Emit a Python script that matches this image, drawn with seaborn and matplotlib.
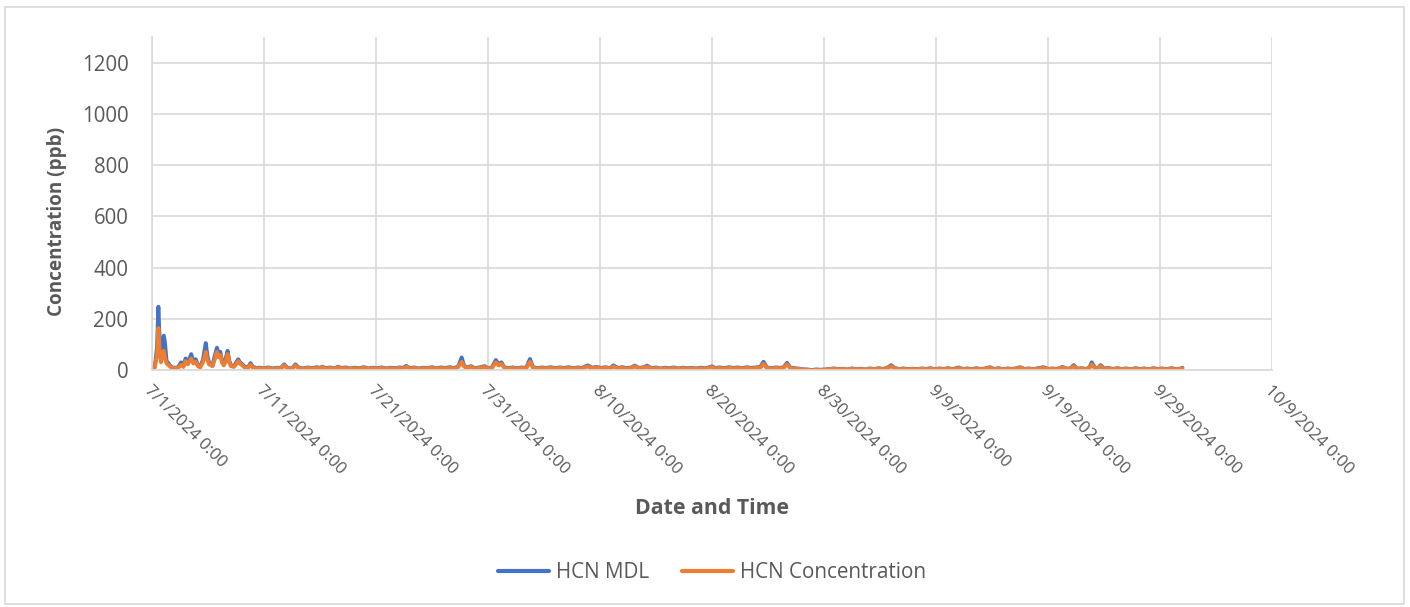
import datetime as dt

import matplotlib
matplotlib.use("Agg")
import matplotlib.pyplot as plt
import matplotlib.dates as mdates
from matplotlib.patches import Rectangle
from matplotlib.ticker import FuncFormatter
import pandas as pd
import seaborn as sns

# ---- data -------------------------------------------------------------
start = dt.datetime(2024, 7, 1)

# sample times, in days after 7/1/2024 0:00
day_offsets = [
    0.0, 0.25, 0.45, 0.57, 0.68, 0.80, 0.92, 1.05, 1.15, 1.30, 1.45, 1.65, 1.85,
    2.1, 2.35, 2.6, 2.8, 3.0, 3.2, 3.5, 3.7, 3.9, 4.1, 4.3, 4.55, 4.8, 4.95,
    5.1, 5.4, 5.6, 5.8, 5.95, 6.1, 6.25, 6.4, 6.55, 6.75, 6.9, 7.05, 7.3, 7.5,
    7.7, 7.85, 8.0, 8.3, 8.6, 8.8, 9.0, 9.3, 9.6, 9.9,
    10.0, 10.4, 10.8, 11.2, 11.5, 11.8, 12.1, 12.5, 12.8, 13.1, 13.5, 13.9,
    14.3, 14.7, 15.0, 15.2, 15.5, 15.9, 16.3, 16.6, 16.9, 17.3, 17.7, 18.1,
    18.5, 18.9, 19.3, 19.7, 20.1, 20.5, 20.9, 21.3, 21.7, 22.1, 22.4, 22.7,
    23.0, 23.4, 23.8, 24.2, 24.6, 25.0, 25.4, 25.8, 26.2, 26.6, 27.0, 27.35,
    27.65, 27.85, 28.1, 28.5, 28.8, 29.2, 29.7, 30.0, 30.35, 30.7, 30.95, 31.2,
    31.45, 31.8, 32.2, 32.6, 33.0, 33.4, 33.75, 34.0, 34.4, 34.8, 35.2, 35.6,
    36.0, 36.4, 36.8, 37.2, 37.6, 38.0, 38.4, 38.9, 39.3, 39.7, 40.1, 40.5,
    40.9, 41.2, 41.6, 42.0, 42.4, 42.8, 43.1, 43.5, 43.9, 44.2, 44.6, 45.0,
    45.4, 45.8, 46.2, 46.6, 47.0, 47.4, 47.8, 48.2, 48.6, 49.0, 49.4, 49.7,
    50.0, 50.3, 50.7, 51.1, 51.5, 51.9, 52.3, 52.7, 53.1, 53.5, 53.9, 54.3,
    54.6, 54.9, 55.3, 55.7, 56.1, 56.4, 56.7, 57.0, 57.4, 57.8, 58.1, 58.5,
    58.9, 59.3, 59.7, 60.1, 60.5, 60.9, 61.3, 61.7, 62.1, 62.5, 62.9, 63.3,
    63.7, 64.1, 64.5, 64.9, 65.3, 65.7, 66.0, 66.3, 66.7, 67.1, 67.5, 67.9,
    68.3, 68.7, 69.1, 69.5, 69.9, 70.3, 70.7, 71.1, 71.5, 72.0, 72.4, 72.8,
    73.2, 73.6, 74.0, 74.4, 74.8, 75.2, 75.6, 76.0, 76.4, 76.8, 77.2, 77.5,
    77.9, 78.3, 78.7, 79.1, 79.6, 80.0, 80.4, 80.8, 81.3, 81.7, 82.0, 82.3,
    82.6, 83.0, 83.4, 83.7, 83.9, 84.2, 84.45, 84.7, 85.0, 85.4, 85.8, 86.2,
    86.6, 87.0, 87.4, 87.8, 88.2, 88.6, 89.0, 89.4, 89.8, 90.2, 90.6, 91.0,
    91.4, 91.8, 92.0,
]

# HCN method detection limit (ppb)
hcn_mdl = [
    8, 12, 90, 247, 120, 40, 90, 134, 110, 35, 27, 15, 10,
    8, 12, 30, 16, 45, 28, 62, 30, 42, 18, 12, 40, 105, 55,
    28, 18, 55, 87, 62, 71, 35, 23, 40, 75, 36, 19, 15, 28,
    42, 30, 25, 12, 12, 27, 13, 8, 9, 7,
    7, 10, 6, 9, 7, 22, 8, 6, 22, 9, 6, 10,
    7, 11, 8, 13, 7, 10, 6, 13, 8, 10, 6, 9,
    7, 11, 6, 9, 7, 10, 6, 9, 7, 10, 8, 16,
    7, 10, 6, 9, 7, 11, 6, 10, 8, 11, 7, 15,
    49, 18, 10, 15, 7, 10, 15, 7, 10, 39, 22, 30,
    11, 7, 10, 7, 10, 8, 43, 12, 7, 10, 8, 11,
    7, 10, 8, 11, 7, 10, 8, 18, 9, 12, 8, 11,
    7, 18, 8, 11, 7, 10, 17, 8, 11, 17, 7, 10,
    6, 9, 7, 10, 6, 9, 7, 8, 6, 9, 7, 10,
    14, 8, 10, 7, 11, 8, 10, 7, 11, 8, 10, 12,
    32, 10, 7, 10, 8, 11, 28, 9, 7, 5, 3, 2,
    0, 2, 1, 2, 4, 6, 3, 5, 2, 6, 3, 5,
    2, 6, 4, 7, 4, 10, 19, 8, 4, 6, 3, 5,
    3, 6, 4, 7, 3, 6, 4, 7, 3, 10, 4, 6,
    3, 7, 4, 6, 11, 4, 7, 3, 6, 4, 7, 11,
    4, 6, 3, 7, 11, 4, 6, 4, 12, 5, 7, 19,
    5, 7, 4, 10, 30, 9, 6, 19, 6, 8, 4, 7,
    4, 6, 3, 7, 4, 6, 3, 7, 4, 6, 3, 7,
    4, 5, 9,
]

# measured HCN concentration (ppb)
hcn_conc = [
    6, 10, 60, 164, 80, 30, 50, 75, 50, 25, 20, 12, 8,
    6, 9, 20, 12, 35, 22, 45, 25, 32, 15, 10, 30, 71, 40,
    22, 15, 40, 71, 50, 58, 30, 18, 30, 62, 30, 15, 12, 22,
    35, 25, 20, 9, 10, 20, 10, 6, 7, 5,
    5, 8, 4, 7, 5, 18, 6, 4, 18, 7, 4, 8,
    5, 9, 6, 11, 5, 8, 4, 11, 6, 8, 4, 7,
    5, 9, 4, 7, 5, 8, 4, 7, 5, 8, 6, 13,
    5, 8, 4, 7, 5, 9, 4, 8, 6, 9, 5, 12,
    32, 14, 8, 12, 5, 8, 12, 5, 8, 30, 18, 24,
    9, 5, 8, 5, 8, 6, 32, 10, 5, 8, 6, 9,
    5, 8, 6, 9, 5, 8, 6, 14, 7, 10, 6, 9,
    5, 14, 6, 9, 5, 8, 14, 6, 9, 13, 5, 8,
    4, 7, 5, 8, 4, 7, 5, 6, 4, 7, 5, 8,
    11, 6, 8, 5, 9, 6, 8, 5, 9, 6, 8, 9,
    24, 8, 5, 8, 6, 9, 22, 7, 5, 4, 2, 1,
    -1, 1, 0, 1, 3, 5, 2, 4, 1, 5, 2, 4,
    1, 5, 3, 6, 3, 8, 15, 6, 3, 5, 2, 4,
    2, 5, 3, 6, 2, 5, 3, 6, 2, 8, 3, 5,
    2, 6, 3, 5, 9, 3, 6, 2, 5, 3, 6, 9,
    3, 5, 2, 6, 9, 3, 5, 3, 10, 4, 6, 15,
    4, 6, 3, 8, 22, 7, 5, 15, 5, 7, 3, 6,
    3, 5, 2, 6, 3, 5, 2, 6, 3, 5, 2, 6,
    3, 4, 7,
]

series_names = ["HCN MDL", "HCN Concentration"]
series_colors = ["#4472C4", "#ED7D31"]
y_ticks = [0, 200, 400, 600, 800, 1000, 1200]
x_tick_days = [0, 10, 20, 30, 40, 50, 60, 70, 80, 90, 100]

# ---- long-form table ---------------------------------------------------
times = [start + dt.timedelta(days=d) for d in day_offsets]
n = len(times)
df = pd.DataFrame({
    "time": times + times,
    "value": hcn_mdl + hcn_conc,
    "series": [series_names[0]] * n + [series_names[1]] * n,
})

# ---- styling -------------------------------------------------------------
sns.set_theme(style="white")
plt.rcParams["font.family"] = ["Open Sans", "DejaVu Sans"]
text_color = "#595959"
grid_color = "#D9D9D9"

W, H = 1410, 607
fig = plt.figure(figsize=(W / 100, H / 100), dpi=100)
fig.patch.set_facecolor("white")
ax = fig.add_axes([152 / W, 1 - 370 / H, 1120 / W, 333 / H])

sns.lineplot(
    data=df, x="time", y="value", hue="series",
    hue_order=series_names, palette=series_colors,
    estimator=None, sort=False, linewidth=2.8, ax=ax,
)
for line in ax.get_lines():
    line.set_solid_joinstyle("round")
    line.set_solid_capstyle("round")

# axes limits and ticks
ax.set_ylim(0, 1300)
ax.set_yticks(y_ticks)
ax.set_xlim(start, start + dt.timedelta(days=100))
ax.set_xticks([start + dt.timedelta(days=d) for d in x_tick_days])


def fmt_date(x, pos):
    d = mdates.num2date(x)
    return f"{d.month}/{d.day}/{d.year} {d.hour}:{d.minute:02d}"


ax.xaxis.set_major_formatter(FuncFormatter(fmt_date))

ax.grid(True, color=grid_color, linewidth=1.2)
ax.set_axisbelow(True)
for side in ("top", "right"):
    ax.spines[side].set_visible(False)
ax.spines["left"].set_color(grid_color)
ax.spines["left"].set_linewidth(1.2)
ax.spines["bottom"].set_color(grid_color)
ax.spines["bottom"].set_linewidth(1.2)

ax.tick_params(axis="both", length=0, labelcolor=text_color)
ax.tick_params(axis="y", pad=17, labelsize=14.8)
ax.tick_params(axis="x", pad=9, labelsize=12.2)
for lbl in ax.get_xticklabels():
    lbl.set_rotation(-45)
    lbl.set_ha("left")
    lbl.set_va("top")
    lbl.set_rotation_mode("anchor")

# axis titles
ax.set_xlabel("Date and Time", fontsize=15.3, fontweight="bold", color=text_color)
ax.xaxis.label.set_va("center")
ax.xaxis.set_label_coords(0.5, (370 - 508) / 333)
ax.set_ylabel("Concentration (ppb)", fontsize=13.6, fontweight="bold", color=text_color)
ax.yaxis.label.set_va("center")
ax.yaxis.set_label_coords((57 - 152) / 1120, (370 - 221) / 333)

# legend below the chart
handles, labels = ax.get_legend_handles_labels()
ax.get_legend().remove()
leg = ax.legend(
    handles, labels, loc="center", bbox_to_anchor=(0.5, (370 - 573) / 333),
    ncol=2, frameon=False, fontsize=14.9, handlelength=2.45,
    handletextpad=0.35, columnspacing=1.6,
)
for t in leg.get_texts():
    t.set_color(text_color)
for h in leg.legend_handles:
    h.set_linewidth(3)

# chart-area border
fig.add_artist(Rectangle((5 / W, 1 - 604 / H), 1399 / W, 597 / H,
                         transform=fig.transFigure, fill=False,
                         edgecolor=grid_color, linewidth=1.2))

fig.savefig("out.png", dpi=100)
